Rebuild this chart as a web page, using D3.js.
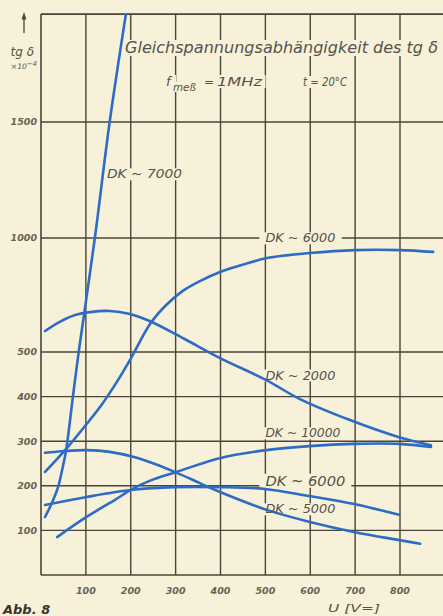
<!DOCTYPE html>
<html>
<head>
<meta charset="utf-8">
<script src="https://cdn.jsdelivr.net/npm/d3@7"></script>
<style>
  html, body { margin: 0; padding: 0; background: #f8f1d9; overflow: hidden; }
  svg { display: block; }
  text { font-family: "DejaVu Sans", "Liberation Sans", sans-serif; font-style: italic; }
</style>
</head>
<body>
<svg id="chart" width="443" height="616"></svg>
<script>
// ---- axis values -------------------------------------------------------
const voltTicks = [100, 200, 300, 400, 500, 600, 700, 800];
const voltTickLabels = ["100", "200", "300", "400", "500", "600", "700", "800"];
const tanTicks = [100, 200, 300, 400, 500, 1000, 1500];
const tanTickLabels = ["100", "200", "300", "400", "500", "1000", "1500"];
const voltMax = 900;   // grid runs on past 800 V
const tanMax = 1965;   // upper frame of the grid

// ---- measured curves: DC voltage U [V] and tg delta [1e-4] -------------
const volt7000 = [9, 24, 38, 47, 56, 71, 84, 120, 153, 192];
const tan7000  = [130, 161, 197, 235, 280, 399, 500, 1000, 1500, 2000];

const volt6000a = [9, 58, 102, 136, 169, 201, 243, 279, 316, 354, 399, 455, 504, 599, 700, 800, 874];
const tan6000a  = [231, 285, 339, 383, 433, 487, 623, 706, 768, 811, 851, 886, 912, 934, 947, 947, 939];

const volt2000 = [9, 42, 76, 109, 153, 198, 242, 320, 398, 502, 576, 687, 798, 869];
const tan2000  = [592, 632, 662, 675, 680, 667, 636, 557, 487, 437, 395, 348, 309, 291];

const volt10000 = [36, 98, 164, 204, 242, 302, 398, 502, 598, 698, 798, 869];
const tan10000  = [85, 128, 168, 193, 211, 231, 262, 280, 289, 294, 294, 287];

const volt6000b = [9, 102, 204, 298, 398, 498, 598, 698, 798];
const tan6000b  = [157, 175, 191, 197, 197, 193, 177, 159, 135];

const volt5000 = [9, 53, 102, 153, 205, 254, 303, 354, 399, 503, 599, 700, 800, 845];
const tan5000  = [274, 278, 280, 276, 265, 249, 229, 206, 186, 146, 119, 96, 78, 70];

// ---- curve labels ------------------------------------------------------
const curveLabels = ["DK ~ 7000", "DK ~ 6000", "DK ~ 2000", "DK ~ 10000", "DK ~ 6000", "DK ~ 5000"];
const labelVolt   = [147, 500, 500, 500, 500, 500];
const labelTan    = [1276, 1000, 448, 318, 211, 148];

const series = [
  [volt7000, tan7000],
  [volt6000a, tan6000a],
  [volt2000, tan2000],
  [volt10000, tan10000],
  [volt6000b, tan6000b],
  [volt5000, tan5000]
].map(([v, t]) => v.map((d, i) => [d, t[i]]));

// ---- styling -----------------------------------------------------------
const paper = "#f8f1d9";
const ink = "#4a443a";
const labelInk = "#56524b";
const curveBlue = "#2c6cc4";

const svg = d3.select("#chart");
svg.append("rect").attr("width", 443).attr("height", 616).attr("fill", paper);

const x = d3.scaleLinear().domain([0, 800]).range([41, 400]);
// the tg delta axis is stretched below 500 and compressed above it
const y = d3.scaleLinear().domain([0, 500, 1000, 1500]).range([575, 352, 238, 122]);

const yTop = y(tanMax);

// ---- grid --------------------------------------------------------------
const grid = svg.append("g").attr("stroke", ink).attr("stroke-width", 1.4).attr("fill", "none");
grid.selectAll("line.v").data(voltTicks).join("line")
  .attr("class", "v")
  .attr("x1", d => x(d)).attr("x2", d => x(d))
  .attr("y1", yTop).attr("y2", y(0));
grid.selectAll("line.h").data(tanTicks).join("line")
  .attr("class", "h")
  .attr("x1", x(0)).attr("x2", x(voltMax))
  .attr("y1", d => y(d)).attr("y2", d => y(d));
// frame: left axis, bottom axis, top edge
grid.append("line").attr("x1", x(0)).attr("x2", x(0)).attr("y1", yTop).attr("y2", y(0)).attr("stroke-width", 1.6);
grid.append("line").attr("x1", x(0)).attr("x2", x(voltMax)).attr("y1", y(0)).attr("y2", y(0)).attr("stroke-width", 1.6);
grid.append("line").attr("x1", x(0)).attr("x2", x(voltMax)).attr("y1", yTop).attr("y2", yTop).attr("stroke-width", 1.6);

// layer for the paper-coloured gaps the lettering cuts into the grid
const gaps = svg.append("g");

// ---- curves ------------------------------------------------------------
svg.append("clipPath").attr("id", "plotClip")
  .append("rect").attr("x", x(0)).attr("y", yTop)
  .attr("width", x(voltMax) - x(0)).attr("height", y(0) - yTop);

const line = d3.line()
  .x(d => x(d[0]))
  .y(d => y(d[1]))
  .curve(d3.curveCatmullRom.alpha(0.5));

const curveLayer = svg.append("g").attr("clip-path", "url(#plotClip)");

// ---- text --------------------------------------------------------------
const textLayer = svg.append("g");

function addGap(node, padX, padY) {
  const b = node.getBBox();
  gaps.append("rect")
    .attr("x", b.x - padX).attr("y", b.y - padY)
    .attr("width", b.width + 2 * padX).attr("height", b.height + 2 * padY)
    .attr("fill", paper);
}

function word(str, xPos, yPos, size, width) {
  const t = textLayer.append("text")
    .attr("x", xPos).attr("y", yPos)
    .attr("font-size", size).attr("fill", labelInk)
    .text(str);
  if (width) t.attr("textLength", width).attr("lengthAdjust", "spacingAndGlyphs");
  addGap(t.node(), 3, -1);
  return t;
}

// title
word("Gleichspannungsabhängigkeit des tg δ", 125, 53, 15, 313);

// measuring conditions
word("f", 166, 86, 13);
word("meß", 173, 91, 10.5, 23);
word("=", 204, 86, 12);
word("1MHz", 217, 86, 12.5, 45);
word("t = 20°C", 303, 86, 12, 44);

// curve labels
const labelSize = [12, 12, 12, 11.5, 13.5, 12];
const labelWidth = [75, 70, 70, 75, 80, 70];
curveLabels.forEach((lab, i) => {
  const t = textLayer.append("text")
    .attr("x", x(labelVolt[i])).attr("y", y(labelTan[i]))
    .attr("dy", "0.36em")
    .attr("font-size", labelSize[i]).attr("fill", labelInk)
    .attr("textLength", labelWidth[i]).attr("lengthAdjust", "spacingAndGlyphs")
    .text(lab);
  addGap(t.node(), 6, -1);
});

curveLayer.selectAll("path").data(series).join("path")
  .attr("d", line)
  .attr("fill", "none")
  .attr("stroke", curveBlue)
  .attr("stroke-width", 2.6)
  .attr("stroke-linecap", "round")
  .attr("stroke-linejoin", "round");

// y tick labels
textLayer.selectAll("text.ytick").data(tanTicks).join("text")
  .attr("class", "ytick")
  .attr("x", 37).attr("y", d => y(d)).attr("dy", "0.35em")
  .attr("text-anchor", "end")
  .attr("font-size", 9.5).attr("font-weight", "bold").attr("fill", "#67625a")
  .text((d, i) => tanTickLabels[i]);

// x tick labels
textLayer.selectAll("text.xtick").data(voltTicks).join("text")
  .attr("class", "xtick")
  .attr("x", d => x(d)).attr("y", 594)
  .attr("text-anchor", "middle")
  .attr("font-size", 9.5).attr("font-weight", "bold").attr("fill", "#67625a")
  .text((d, i) => voltTickLabels[i]);

// axis titles
textLayer.append("text")
  .attr("x", 328).attr("y", 612)
  .attr("font-size", 11).attr("fill", labelInk)
  .attr("textLength", 52).attr("lengthAdjust", "spacingAndGlyphs")
  .text("U [V=]");

textLayer.append("text")
  .attr("x", 34).attr("y", 56).attr("text-anchor", "end")
  .attr("font-size", 12).attr("fill", labelInk)
  .text("tg δ");
const unit = textLayer.append("text")
  .attr("x", 37).attr("y", 69).attr("text-anchor", "end")
  .attr("font-size", 7.5).attr("fill", labelInk);
unit.append("tspan").text("×10");
unit.append("tspan").attr("dy", -3).attr("font-size", 7).text("−4");

// upward arrow of the tg delta axis
svg.append("line")
  .attr("x1", 24).attr("x2", 24).attr("y1", 33).attr("y2", 18)
  .attr("stroke", ink).attr("stroke-width", 1.3);
svg.append("path")
  .attr("d", "M24,12 L21.6,19.5 L26.4,19.5 Z")
  .attr("fill", ink);

// figure number
textLayer.append("text")
  .attr("x", 3).attr("y", 614)
  .attr("font-size", 13).attr("font-weight", "bold").attr("font-style", "normal")
  .attr("fill", "#3a3630")
  .text("Abb. 8");
</script>
</body>
</html>
